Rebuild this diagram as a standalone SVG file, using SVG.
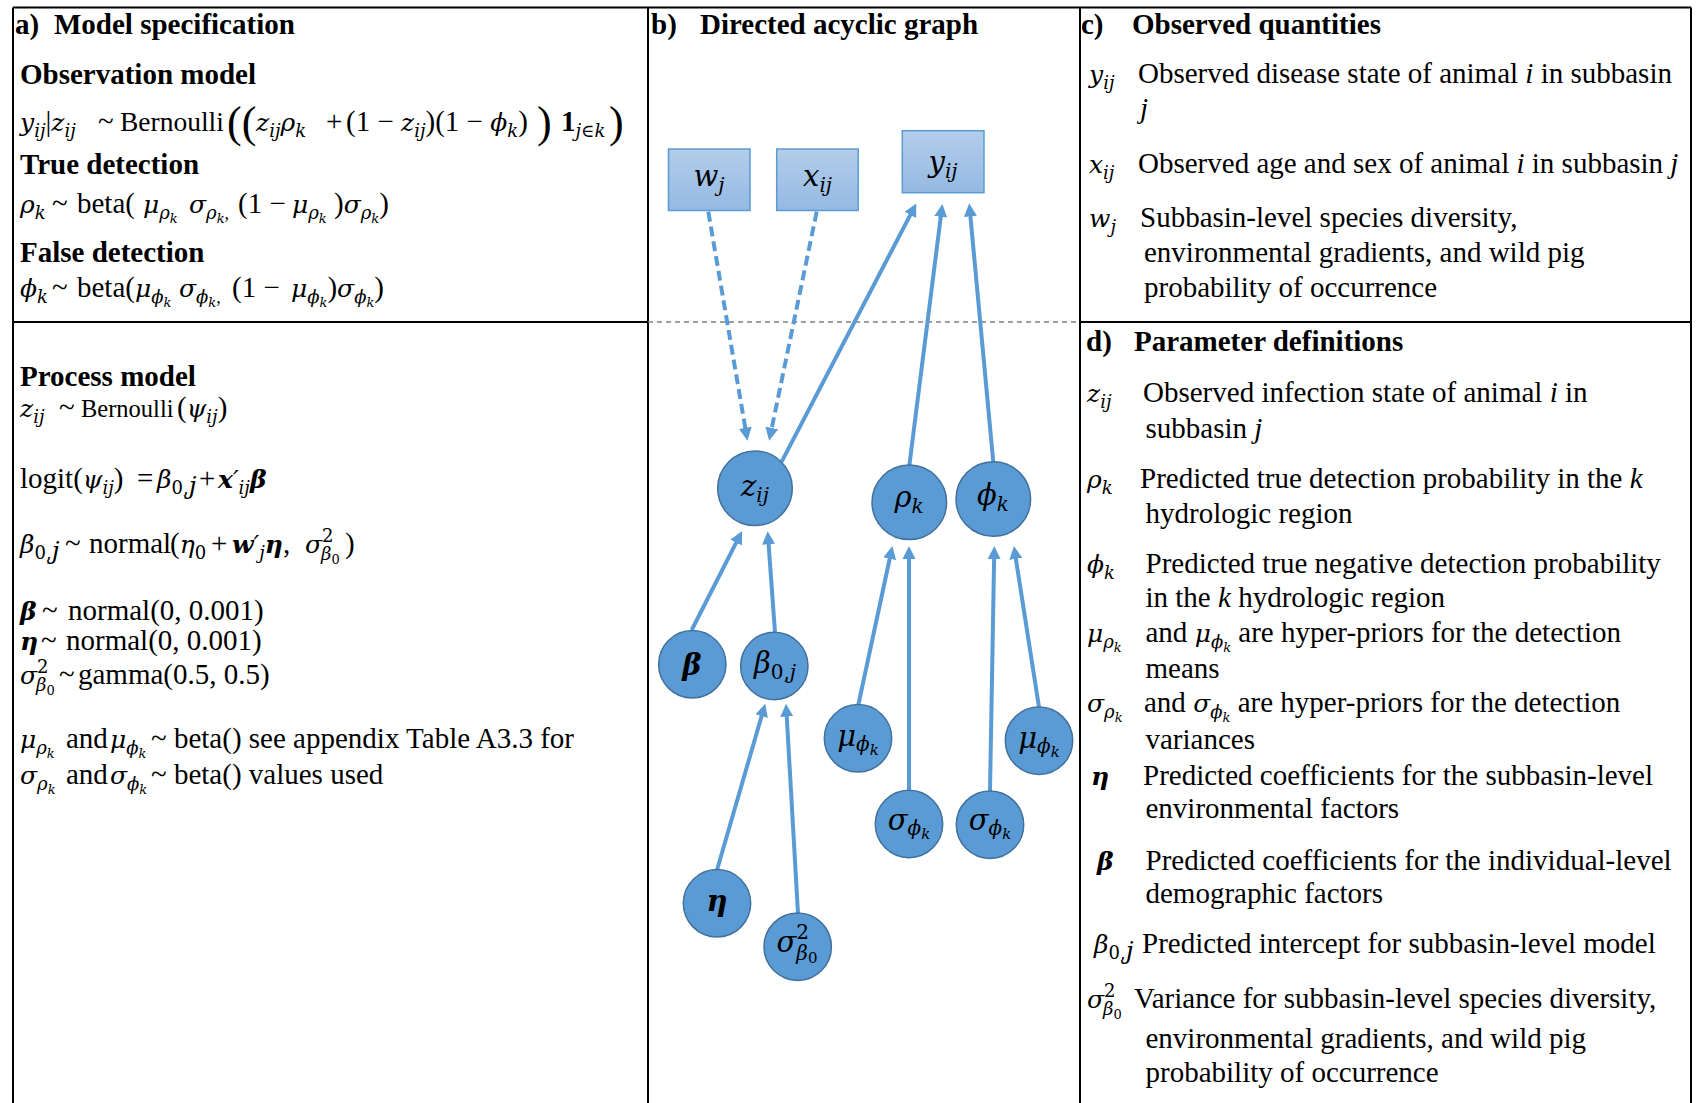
<svg xmlns="http://www.w3.org/2000/svg" width="1696" height="1103" viewBox="0 0 1696 1103">
<style>
.tx{font-family:"Liberation Serif","Times New Roman",serif;font-size:29px;fill:#000}
.hd{font-weight:bold}
.m{font-family:"DejaVu Serif",serif;font-size:25px}
.mi{font-family:"DejaVu Serif",serif;font-style:italic;font-size:25px}
.mb{font-family:"DejaVu Serif",serif;font-style:italic;font-weight:bold;font-size:25px}
.up{font-style:normal}
.sb{font-size:18px}
.ss{font-size:13px}
.big{font-family:"Liberation Serif",serif;font-size:44px}
.nl{font-family:"DejaVu Serif",serif;font-style:italic;font-size:29px;text-anchor:middle;fill:#000}
.ns{font-size:20px}
.nss{font-size:15px}
.node{fill:#5B9BD5;stroke:#41719C;stroke-width:1.5}
.obs{fill:url(#g);stroke:#5B9BD5;stroke-width:1.5}
.edge{fill:none;stroke:#5B9BD5;stroke-width:4;marker-end:url(#ah)}
.dash{stroke-dasharray:10 5}
.frame{stroke:#000;stroke-width:2;fill:none}
</style>
<defs>
<linearGradient id="g" x1="0" y1="0" x2="0" y2="1">
<stop offset="0" stop-color="#B3CDEA"/>
<stop offset="1" stop-color="#94B9E3"/>
</linearGradient>
<marker id="ah" markerUnits="userSpaceOnUse" markerWidth="13" markerHeight="13" viewBox="0 0 12 12" refX="4" refY="6" orient="auto">
<path d="M0,0 L12,6 L0,12 z" fill="#5B9BD5"/>
</marker>
</defs>
<rect width="1696" height="1103" fill="#fff"/>

<g id="frame">
<path class="frame" d="M13,7.5 H1691 M13,7.5 V1103 M648,7.5 V1103 M1080,7.5 V1103 M1691,7.5 V1103 M13,322 H648 M1080,322 H1691"/>
<path d="M648,322 H1080" stroke="#7F7F7F" stroke-width="1.5" stroke-dasharray="5 4"/>
</g>

<g id="panel-a">
<text class="tx hd" y="34"><tspan x="15">a)</tspan><tspan x="54">Model specification</tspan></text>
<text class="tx hd" x="20" y="84">Observation model</text>
<text class="tx" y="131"><tspan x="20" class="mi">y</tspan><tspan class="mi sb" y="137">ij</tspan><tspan y="131">|</tspan><tspan class="mi">z</tspan><tspan class="mi sb" y="137">ij</tspan><tspan x="98" y="131">~</tspan><tspan x="120" font-size="27.5">Bernoulli</tspan><tspan x="227" y="137" class="big">((</tspan><tspan x="256" y="131" class="mi">z</tspan><tspan class="mi sb" y="137">ij</tspan><tspan class="mi" y="131">ρ</tspan><tspan class="mi sb" y="137">k</tspan><tspan x="326" y="131">+</tspan><tspan x="346">(1 − </tspan><tspan class="mi">z</tspan><tspan class="mi sb" y="137">ij</tspan><tspan y="131">)(1 − </tspan><tspan class="mi">ϕ</tspan><tspan class="mi sb" y="137">k</tspan><tspan y="131">)</tspan><tspan x="537" y="137" class="big">)</tspan><tspan x="561" y="131" class="hd">1</tspan><tspan class="mi sb" y="137">j∈k</tspan><tspan x="609" y="137" class="big">)</tspan></text>
<text class="tx hd" x="20" y="174">True detection</text>
<text class="tx" y="213"><tspan x="20" class="mi">ρ</tspan><tspan class="mi sb" y="219">k</tspan><tspan x="52" y="213">~</tspan><tspan x="77">beta(</tspan><tspan x="143" class="mi">μ</tspan><tspan class="mi sb" y="219">ρ</tspan><tspan class="mi ss" y="223">k</tspan><tspan x="189" y="213" class="mi">σ</tspan><tspan class="mi sb" y="219">ρ</tspan><tspan class="mi ss" y="223">k</tspan><tspan class="sb" y="219">,</tspan><tspan x="238" y="213">(1 − </tspan><tspan x="292" class="mi">μ</tspan><tspan class="mi sb" y="219">ρ</tspan><tspan class="mi ss" y="223">k</tspan><tspan x="334" y="213">)</tspan><tspan class="mi">σ</tspan><tspan class="mi sb" y="219">ρ</tspan><tspan class="mi ss" y="223">k</tspan><tspan y="213">)</tspan></text>
<text class="tx hd" x="20" y="262">False detection</text>
<text class="tx" y="297"><tspan x="20" class="mi">ϕ</tspan><tspan class="mi sb" y="303">k</tspan><tspan x="52" y="297">~</tspan><tspan x="77">beta(</tspan><tspan x="135" class="mi">μ</tspan><tspan class="mi sb" y="303">ϕ</tspan><tspan class="mi ss" y="307">k</tspan><tspan x="179" y="297" class="mi">σ</tspan><tspan class="mi sb" y="303">ϕ</tspan><tspan class="mi ss" y="307">k</tspan><tspan class="sb" y="303">,</tspan><tspan x="232" y="297">(1 − </tspan><tspan x="291" class="mi">μ</tspan><tspan class="mi sb" y="303">ϕ</tspan><tspan class="mi ss" y="307">k</tspan><tspan y="297">)</tspan><tspan class="mi">σ</tspan><tspan class="mi sb" y="303">ϕ</tspan><tspan class="mi ss" y="307">k</tspan><tspan y="297">)</tspan></text>

<text class="tx hd" x="20" y="386">Process model</text>
<text class="tx" y="417"><tspan x="20" class="mi">z</tspan><tspan class="mi sb" y="423">ij</tspan><tspan x="59" y="417">~</tspan><tspan x="81" font-size="24.5">Bernoulli</tspan><tspan x="177">(</tspan><tspan class="mi">ψ</tspan><tspan class="mi sb" y="423">ij</tspan><tspan y="417">)</tspan></text>
<text class="tx" y="488"><tspan x="20">logit(</tspan><tspan class="mi">ψ</tspan><tspan class="mi sb" y="494">ij</tspan><tspan y="488">)</tspan><tspan x="137">=</tspan><tspan x="157" class="mi">β</tspan><tspan class="m sb" y="494">0,<tspan class="mi">j</tspan></tspan><tspan x="199" y="488">+</tspan><tspan x="218" class="mb">x</tspan><tspan class="mi">′</tspan><tspan class="mi sb" y="494">ij</tspan><tspan class="mb" y="488">β</tspan></text>
<text class="tx" y="553"><tspan x="20" class="mi">β</tspan><tspan class="m sb" y="559">0,<tspan class="mi">j</tspan></tspan><tspan x="65" y="553">~</tspan><tspan x="89">normal</tspan><tspan x="170">(</tspan><tspan class="mi">η</tspan><tspan class="m sb" y="559">0</tspan><tspan x="211" y="553">+</tspan><tspan x="232" class="mb">w</tspan><tspan class="mi">′</tspan><tspan class="mi sb" y="559">j</tspan><tspan class="mb" y="553">η</tspan><tspan>,</tspan><tspan x="305" class="mi">σ</tspan><tspan class="m sb" y="542">2</tspan><tspan class="mi sb" x="321" y="560">β</tspan><tspan class="m ss" y="564">0</tspan><tspan x="345" y="553">)</tspan></text>
<text class="tx" y="620"><tspan x="20" class="mb">β</tspan><tspan x="42">~</tspan><tspan x="68">normal(0, 0.001)</tspan></text>
<text class="tx" y="650"><tspan x="20" class="mb">η</tspan><tspan x="41">~</tspan><tspan x="66">normal(0, 0.001)</tspan></text>
<text class="tx" y="684"><tspan x="20" class="mi">σ</tspan><tspan class="m sb" y="673">2</tspan><tspan class="mi sb" x="36" y="691">β</tspan><tspan class="m ss" y="695">0</tspan><tspan x="59" y="684">~</tspan><tspan x="78">gamma(0.5, 0.5)</tspan></text>
<text class="tx" y="748"><tspan x="20" class="mi">μ</tspan><tspan class="mi sb" y="754">ρ</tspan><tspan class="mi ss" y="758">k</tspan><tspan x="66" y="748">and</tspan><tspan x="110" class="mi">μ</tspan><tspan class="mi sb" y="754">ϕ</tspan><tspan class="mi ss" y="758">k</tspan><tspan x="151" y="748">~ beta() see appendix Table A3.3 for</tspan></text>
<text class="tx" y="784"><tspan x="20" class="mi">σ</tspan><tspan class="mi sb" y="790">ρ</tspan><tspan class="mi ss" y="794">k</tspan><tspan x="66" y="784">and</tspan><tspan x="110" class="mi">σ</tspan><tspan class="mi sb" y="790">ϕ</tspan><tspan class="mi ss" y="794">k</tspan><tspan x="151" y="784">~ beta() values used</tspan></text>
</g>

<g id="panel-b-title">
<text class="tx hd" y="34"><tspan x="651">b)</tspan><tspan x="700">Directed acyclic graph</tspan></text>
</g>

<g id="connectors">
<path class="edge dash" d="M708.3,211.7 L746,432.1"/>
<path class="edge dash" d="M816.7,211.7 L770.9,432.2"/>
<path class="edge" d="M781.7,461.7 L912.3,211.1"/>
<path class="edge" d="M909.3,465.7 L941.3,212.6"/>
<path class="edge" d="M993.3,462.3 L970,212"/>
<path class="edge" d="M691.7,630 L738.1,538.8"/>
<path class="edge" d="M775,632.3 L768.3,540"/>
<path class="edge" d="M717,870 L762.8,712"/>
<path class="edge" d="M798,913.3 L786.5,712.3"/>
<path class="edge" d="M858.3,705 L890.6,554.5"/>
<path class="edge" d="M909,790.7 L909,554.7"/>
<path class="edge" d="M990,791 L994.2,554.7"/>
<path class="edge" d="M1039,707.3 L1015.2,554.6"/>
</g>

<g id="node-w">
<rect class="obs" x="668.5" y="149" width="81.5" height="61.5"/>
<text class="nl" x="709" y="186">w<tspan class="ns" dy="6">j</tspan></text>
</g>
<g id="node-x">
<rect class="obs" x="776.7" y="149" width="81.5" height="61.5"/>
<text class="nl" x="817.5" y="186">x<tspan class="ns" dy="6">ij</tspan></text>
</g>
<g id="node-y">
<rect class="obs" x="902.3" y="130.7" width="81.7" height="62"/>
<text class="nl" x="943" y="172">y<tspan class="ns" dy="6">ij</tspan></text>
</g>
<g id="node-z">
<circle class="node" cx="755" cy="488.3" r="37.3"/>
<text class="nl" x="755" y="496">z<tspan class="ns" dy="6">ij</tspan></text>
</g>
<g id="node-rho">
<circle class="node" cx="909.3" cy="502.3" r="37.3"/>
<text class="nl" x="909" y="507">ρ<tspan class="ns" dy="6">k</tspan></text>
</g>
<g id="node-phi">
<circle class="node" cx="993.3" cy="499" r="37.3"/>
<text class="nl" x="993" y="505">ϕ<tspan class="ns" dy="6">k</tspan></text>
</g>
<g id="node-beta">
<circle class="node" cx="692.3" cy="664.3" r="33.7"/>
<text class="nl" x="692" y="675" font-weight="bold">β</text>
</g>
<g id="node-beta0">
<circle class="node" cx="774.3" cy="666" r="33.7"/>
<text class="nl" x="775" y="673">β<tspan class="ns up" dy="6">0,</tspan><tspan class="ns">j</tspan></text>
</g>
<g id="node-mu-phi-1">
<circle class="node" cx="858" cy="738.3" r="33.7"/>
<text class="nl" x="858" y="746">μ<tspan class="ns" dy="5">ϕ</tspan><tspan class="nss" dy="4">k</tspan></text>
</g>
<g id="node-mu-phi-2">
<circle class="node" cx="1039" cy="740.7" r="33.7"/>
<text class="nl" x="1039" y="748">μ<tspan class="ns" dy="5">ϕ</tspan><tspan class="nss" dy="4">k</tspan></text>
</g>
<g id="node-sigma-phi-1">
<circle class="node" cx="909" cy="824" r="33.7"/>
<text class="nl" x="909" y="830">σ<tspan class="ns" dy="5">ϕ</tspan><tspan class="nss" dy="4">k</tspan></text>
</g>
<g id="node-sigma-phi-2">
<circle class="node" cx="990" cy="824.7" r="33.7"/>
<text class="nl" x="990" y="830">σ<tspan class="ns" dy="5">ϕ</tspan><tspan class="nss" dy="4">k</tspan></text>
</g>
<g id="node-eta">
<circle class="node" cx="717" cy="903.3" r="33.7"/>
<text class="nl" x="717" y="911" font-weight="bold">η</text>
</g>
<g id="node-sigma2">
<circle class="node" cx="797.7" cy="946.7" r="33.7"/>
<text class="nl" x="797" y="952">σ<tspan class="ns up" dy="-13">2</tspan><tspan class="ns" dx="-12.7" dy="21">β</tspan><tspan class="nss up" dy="3">0</tspan></text>
</g>

<g id="panel-c">
<text class="tx hd" y="34"><tspan x="1081">c)</tspan><tspan x="1132">Observed quantities</tspan></text>
<text class="tx" y="83"><tspan x="1089" class="mi">y</tspan><tspan class="mi sb" y="89">ij</tspan><tspan x="1138" y="83">Observed disease state of animal </tspan><tspan font-style="italic">i</tspan><tspan> in subbasin</tspan></text>
<text class="tx" x="1140" y="118" font-style="italic">j</text>
<text class="tx" y="173"><tspan x="1089" class="mi">x</tspan><tspan class="mi sb" y="179">ij</tspan><tspan x="1138" y="173">Observed age and sex of animal </tspan><tspan font-style="italic">i</tspan><tspan> in subbasin </tspan><tspan font-style="italic">j</tspan></text>
<text class="tx" y="227"><tspan x="1089" class="mi">w</tspan><tspan class="mi sb" y="233">j</tspan><tspan x="1140" y="227">Subbasin-level species diversity,</tspan></text>
<text class="tx" x="1144" y="262">environmental gradients, and wild pig</text>
<text class="tx" x="1144" y="297">probability of occurrence</text>
</g>

<g id="panel-d">
<text class="tx hd" y="351"><tspan x="1086">d)</tspan><tspan x="1134">Parameter definitions</tspan></text>
<text class="tx" y="402"><tspan x="1087" class="mi">z</tspan><tspan class="mi sb" y="408">ij</tspan><tspan x="1143" y="402">Observed infection state of animal </tspan><tspan font-style="italic">i</tspan><tspan> in</tspan></text>
<text class="tx" x="1145.5" y="438">subbasin <tspan font-style="italic">j</tspan></text>
<text class="tx" y="488"><tspan x="1087" class="mi">ρ</tspan><tspan class="mi sb" y="494">k</tspan><tspan x="1140" y="488">Predicted true detection probability in the </tspan><tspan font-style="italic">k</tspan></text>
<text class="tx" x="1145.5" y="523">hydrologic region</text>
<text class="tx" y="573"><tspan x="1087" class="mi">ϕ</tspan><tspan class="mi sb" y="579">k</tspan><tspan x="1145.5" y="573">Predicted true negative detection probability</tspan></text>
<text class="tx" x="1145.5" y="607">in the <tspan font-style="italic">k</tspan> hydrologic region</text>
<text class="tx" y="642"><tspan x="1087" class="mi">μ</tspan><tspan class="mi sb" y="648">ρ</tspan><tspan class="mi ss" y="652">k</tspan><tspan x="1145.5" y="642">and </tspan><tspan class="mi">μ</tspan><tspan class="mi sb" y="648">ϕ</tspan><tspan class="mi ss" y="652">k</tspan><tspan y="642"> are hyper-priors for the detection</tspan></text>
<text class="tx" x="1145.5" y="678">means</text>
<text class="tx" y="712"><tspan x="1087" class="mi">σ</tspan><tspan class="mi sb" y="718">ρ</tspan><tspan class="mi ss" y="722">k</tspan><tspan x="1144" y="712">and </tspan><tspan class="mi">σ</tspan><tspan class="mi sb" y="718">ϕ</tspan><tspan class="mi ss" y="722">k</tspan><tspan y="712"> are hyper-priors for the detection</tspan></text>
<text class="tx" x="1145.5" y="749">variances</text>
<text class="tx" y="785"><tspan x="1091" class="mb">η</tspan><tspan x="1143">Predicted coefficients for the subbasin-level</tspan></text>
<text class="tx" x="1145.5" y="818">environmental factors</text>
<text class="tx" y="870"><tspan x="1097" class="mb">β</tspan><tspan x="1145.5">Predicted coefficients for the individual-level</tspan></text>
<text class="tx" x="1145.5" y="903">demographic factors</text>
<text class="tx" y="953"><tspan x="1094" class="mi">β</tspan><tspan class="m sb" y="959">0,<tspan class="mi">j</tspan></tspan><tspan x="1142" y="953">Predicted intercept for subbasin-level model</tspan></text>
<text class="tx" y="1008"><tspan x="1087" class="mi">σ</tspan><tspan class="m sb" y="997">2</tspan><tspan class="mi sb" x="1103" y="1015">β</tspan><tspan class="m ss" y="1019">0</tspan><tspan x="1134" y="1008">Variance for subbasin-level species diversity,</tspan></text>
<text class="tx" x="1145.5" y="1048">environmental gradients, and wild pig</text>
<text class="tx" x="1145.5" y="1082">probability of occurrence</text>
</g>
</svg>
